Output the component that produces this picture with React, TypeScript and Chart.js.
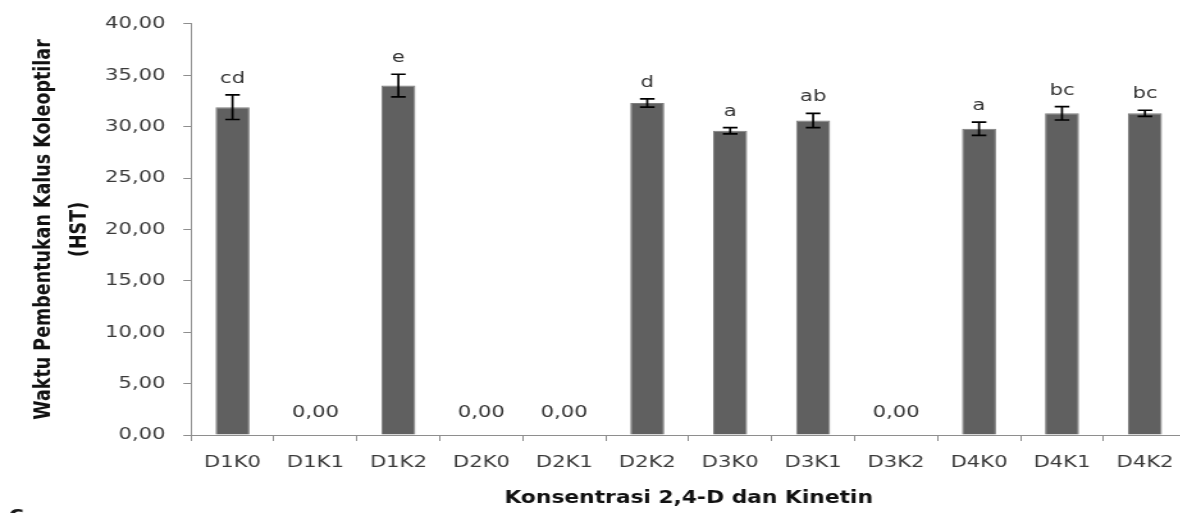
import React, { useEffect, useRef } from 'react';
import { Chart, registerables } from 'chart.js';

Chart.register(...registerables);

const categories = ['D1K0', 'D1K1', 'D1K2', 'D2K0', 'D2K1', 'D2K2', 'D3K0', 'D3K1', 'D3K2', 'D4K0', 'D4K1', 'D4K2'];
const meanValues = [31.9, 0, 34.0, 0, 0, 32.3, 29.6, 30.6, 0, 29.8, 31.3, 31.3];
const errorValues = [1.2, 0, 1.1, 0, 0, 0.4, 0.3, 0.7, 0, 0.65, 0.65, 0.3];
const letterLabels = ['cd', '', 'e', '', '', 'd', 'a', 'ab', '', 'a', 'bc', 'bc'];
const yTickStep = 5;
const yMin = 0;
const yMax = 40;
const xTitle = 'Konsentrasi 2,4-D dan Kinetin';
const yTitle = ['Waktu Pembentukan Kalus Koleoptilar', '(HST)'];

const SX = 1.28;
const W_INT = 938;
const H = 513;

const fmt = (v: number) => Number(v).toFixed(2).replace('.', ',');

export default function App() {
  const ref = useRef<HTMLCanvasElement>(null);

  useEffect(() => {
    const canvas = ref.current!;
    Chart.defaults.font.family = '"DejaVu Sans", sans-serif';

    const annotate = {
      id: 'annotate',
      afterDatasetsDraw(chart: any) {
        const ctx = chart.ctx;
        const meta = chart.getDatasetMeta(0);
        const ys = chart.scales.y;
        ctx.save();
        meta.data.forEach((bar: any, i: number) => {
          const m = meanValues[i];
          const e = errorValues[i];
          const x = bar.x;
          if (m > 0 && e > 0) {
            const yTop = ys.getPixelForValue(m + e);
            const yBot = ys.getPixelForValue(m - e);
            ctx.strokeStyle = '#000';
            ctx.lineWidth = 1.7;
            ctx.beginPath();
            ctx.moveTo(x, yTop);
            ctx.lineTo(x, yBot);
            ctx.moveTo(x - 5.7, yTop);
            ctx.lineTo(x + 5.7, yTop);
            ctx.moveTo(x - 5.7, yBot);
            ctx.lineTo(x + 5.7, yBot);
            ctx.stroke();
          }
          ctx.fillStyle = '#333';
          ctx.font = '16.5px "DejaVu Sans"';
          ctx.textAlign = 'center';
          if (m > 0) {
            ctx.textBaseline = 'alphabetic';
            ctx.fillText(letterLabels[i], x, ys.getPixelForValue(m + e) - 12);
          } else {
            ctx.textBaseline = 'middle';
            ctx.fillText(fmt(m), x, ys.getPixelForValue(0) - 22);
          }
        });
        ctx.font = 'bold 20px "DejaVu Sans"';
        ctx.textAlign = 'left';
        ctx.textBaseline = 'alphabetic';
        ctx.fillStyle = '#1a1a1a';
        ctx.fillText('c', 7, 520);
        ctx.restore();
      },
    };

    const chart = new Chart(canvas, {
      type: 'bar',
      data: {
        labels: categories,
        datasets: [
          {
            data: meanValues,
            backgroundColor: '#606060',
            borderColor: '#7c7c7c',
            borderWidth: 1,
            barPercentage: 0.41,
            categoryPercentage: 1,
          },
        ],
      },
      options: {
        responsive: false,
        animation: false,
        devicePixelRatio: 1,
        layout: { padding: { top: 21, right: W_INT - 926.6, bottom: 0, left: 0 } },
        plugins: { legend: { display: false }, tooltip: { enabled: false } },
        scales: {
          x: {
            grid: { drawOnChartArea: false, drawTicks: true, tickLength: 6, color: '#8e8e8e', offset: true },
            border: { color: '#8e8e8e', width: 1 },
            ticks: { color: '#3a3a3a', font: { size: 16.5 }, padding: 12, maxRotation: 0, autoSkip: false },
            title: {
              display: true,
              text: xTitle,
              color: '#111',
              font: { size: 17, weight: 'bold' },
              padding: { top: 0, bottom: 4 },
            },
            afterFit: (s: any) => {
              s.height = 78;
            },
          },
          y: {
            min: yMin,
            max: yMax,
            grid: { drawOnChartArea: false, drawTicks: true, tickLength: 6, color: '#8e8e8e' },
            border: { color: '#8e8e8e', width: 1 },
            ticks: { stepSize: yTickStep, color: '#3a3a3a', font: { size: 16.5 }, padding: 14, callback: (v: any) => fmt(v) },
            title: {
              display: true,
              text: yTitle,
              color: '#111',
              font: { size: 17.5, weight: 'bold', lineHeight: 1.65 },
              padding: { top: 19.6, bottom: 0 },
            },
            afterFit: (s: any) => {
              s.width = 149.2;
            },
          },
        },
      } as any,
      plugins: [annotate],
    });
    return () => chart.destroy();
  }, []);

  return (
    <div style={{ position: 'fixed', left: 0, top: 0, width: 1180, height: H, overflow: 'hidden', background: '#fff' }}>
      <canvas
        ref={ref}
        width={W_INT}
        height={H}
        style={{ display: 'block', width: `${W_INT * SX}px`, height: `${H}px` }}
      />
    </div>
  );
}
